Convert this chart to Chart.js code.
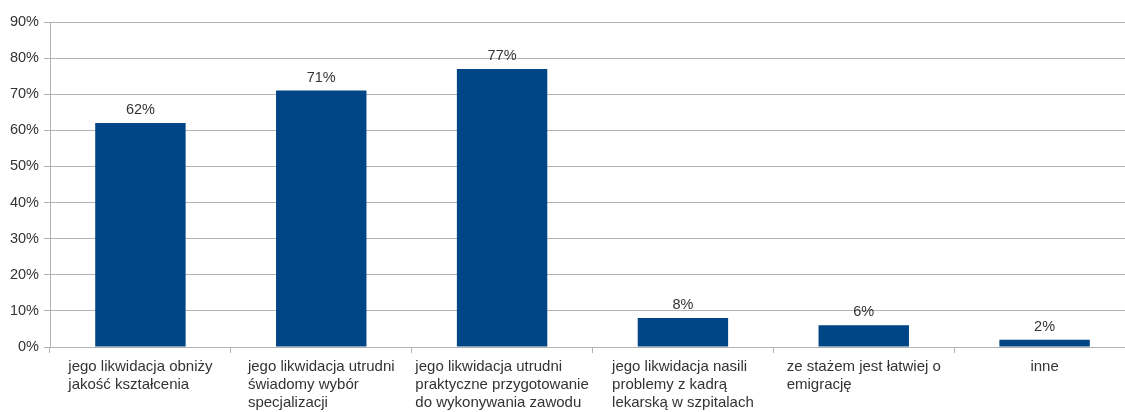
<!DOCTYPE html>
<html>
<head>
<meta charset="utf-8">
<script src="https://cdn.jsdelivr.net/npm/chart.js@4.4.0/dist/chart.umd.min.js"></script>
<style>
  html, body { margin: 0; padding: 0; background: #fff; overflow: hidden; }
  #wrap { width: 1135px; height: 412px; position: relative; }
</style>
</head>
<body>
<div id="wrap"><canvas id="chart"></canvas></div>
<script>
// Data
const categories = [
    ['jego likwidacja obniży', 'jakość kształcenia'],
    ['jego likwidacja utrudni', 'świadomy wybór', 'specjalizacji'],
    ['jego likwidacja utrudni', 'praktyczne przygotowanie', 'do wykonywania zawodu'],
    ['jego likwidacja nasili', 'problemy z kadrą', 'lekarską w szpitalach'],
    ['ze stażem jest łatwiej o', 'emigrację'],
    ['inne']
];
const values = [62, 71, 77, 8, 6, 2];
const yTicks = [0, 10, 20, 30, 40, 50, 60, 70, 80, 90];

const barColor = '#004586';
const gridColor = '#b3b3b3';
const textColor = '#333333';
const fontFamily = '"Liberation Sans", Arial, sans-serif';

// Draw the value labels above each bar
const valueLabels = {
    id: 'valueLabels',
    afterDatasetsDraw(chart) {
        const ctx = chart.ctx;
        const meta = chart.getDatasetMeta(0);
        ctx.save();
        ctx.font = '14.5px ' + fontFamily;
        ctx.fillStyle = textColor;
        ctx.textAlign = 'center';
        ctx.textBaseline = 'alphabetic';
        meta.data.forEach((bar, i) => {
            ctx.fillText(values[i] + '%', bar.x, bar.y - 9);
        });
        ctx.restore();
    }
};

// Category labels: block centred under the category, lines left aligned inside it
const categoryLabels = {
    id: 'categoryLabels',
    afterDraw(chart) {
        const ctx = chart.ctx;
        const xs = chart.scales.x;
        ctx.save();
        ctx.font = '15px ' + fontFamily;
        ctx.fillStyle = textColor;
        ctx.textAlign = 'left';
        ctx.textBaseline = 'middle';
        categories.forEach((lines, i) => {
            const w = Math.max(...lines.map(l => ctx.measureText(l).width));
            const left = xs.getPixelForValue(i) - w / 2;
            lines.forEach((line, j) => {
                ctx.fillText(line, left, chart.chartArea.bottom + 20 + j * 18);
            });
        });
        ctx.restore();
    }
};

const ctx = document.getElementById('chart').getContext('2d');
new Chart(ctx, {
    type: 'bar',
    data: {
        labels: categories.map(l => l.join(' ')),
        datasets: [{
            data: values,
            backgroundColor: barColor,
            borderWidth: 0,
            categoryPercentage: 1,
            barPercentage: 0.5
        }]
    },
    options: {
        responsive: true,
        maintainAspectRatio: false,
        animation: false,
        layout: { padding: { top: 22, right: 0, bottom: 0, left: 0 } },
        plugins: {
            legend: { display: false },
            tooltip: { enabled: false }
        },
        scales: {
            x: {
                offset: true,
                grid: {
                    offset: true,
                    drawOnChartArea: false,
                    color: gridColor,
                    tickLength: 6
                },
                border: { color: gridColor },
                ticks: { display: false },
                afterFit(scale) { scale.height = 65; }
            },
            y: {
                min: 0,
                max: 90,
                afterBuildTicks(scale) {
                    scale.ticks = yTicks.map(v => ({ value: v }));
                },
                grid: { color: gridColor, tickLength: 6 },
                border: { color: gridColor },
                ticks: {
                    padding: 5,
                    color: textColor,
                    font: { family: fontFamily, size: 14.5 },
                    callback: v => v + '%'
                },
                afterFit(scale) { scale.width = 50; }
            }
        }
    },
    plugins: [valueLabels, categoryLabels]
});
</script>
</body>
</html>
